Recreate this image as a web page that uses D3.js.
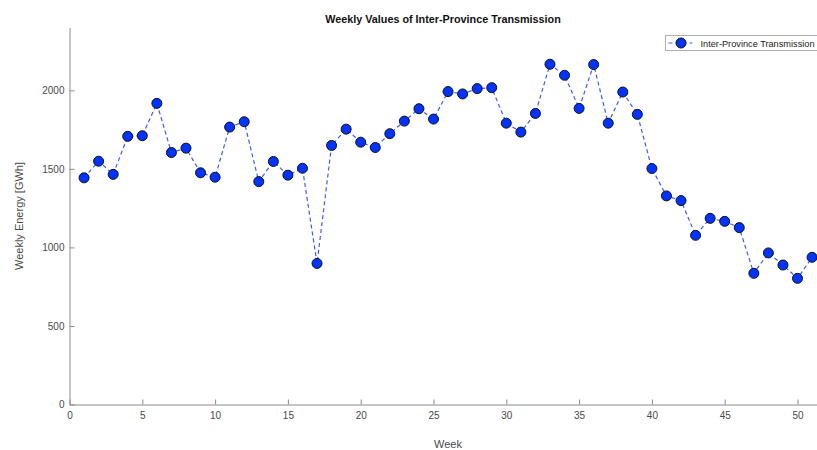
<!DOCTYPE html>
<html>
<head>
<meta charset="utf-8">
<script src="https://cdn.jsdelivr.net/npm/d3@7/dist/d3.min.js"></script>
<style>
  html, body { margin: 0; padding: 0; background: #fff; }
  svg { display: block; font-family: "Liberation Sans", Arial, Helvetica, sans-serif; }
</style>
</head>
<body>
<svg id="chart" width="817" height="450"></svg>
<script>
// Weekly inter-province transmission energy, GWh
const weeks = d3.range(1, 52);
const energy = [
  1443, 1549, 1465, 1707, 1711, 1917, 1604, 1632, 1475, 1447,
  1766, 1800, 1419, 1547, 1460, 1504, 898, 1649, 1753, 1670,
  1636, 1724, 1804, 1883, 1817, 1992, 1977, 2011, 2017, 1791,
  1734, 1853, 2166, 2096, 1885, 2164, 1791, 1989, 1847, 1502,
  1328, 1298, 1077, 1185, 1166, 1126, 835, 965, 888, 803, 937
];
const xTicks = [0, 5, 10, 15, 20, 25, 30, 35, 40, 45, 50];
const yTicks = [0, 500, 1000, 1500, 2000];
const titleText = "Weekly Values of Inter-Province Transmission";
const xLabel = "Week";
const yLabel = "Weekly Energy [GWh]";
const seriesName = "Inter-Province Transmission";

const svg = d3.select("#chart");
const plotLeft = 69.5, plotTop = 27.5, plotBottom = 404.5;

const x = d3.scaleLinear().domain([0, 52]).range([plotLeft, plotLeft + 52 * 14.56]);
const y = d3.scaleLinear().domain([0, 2400]).range([plotBottom, plotTop]);

const axisColor = "#8c8c8c";
const textColor = "#4a4a4a";

// x axis (ticks point inward)
const gx = svg.append("g")
  .attr("transform", `translate(0,${plotBottom})`)
  .call(d3.axisBottom(x).tickValues(xTicks).tickFormat(d3.format("d"))
    .tickSizeInner(-5).tickSizeOuter(0).tickPadding(7));
// y axis
const gy = svg.append("g")
  .attr("transform", `translate(${plotLeft},0)`)
  .call(d3.axisLeft(y).tickValues(yTicks).tickFormat(d3.format("d"))
    .tickSizeInner(-5).tickSizeOuter(0).tickPadding(5));

[gx, gy].forEach(g => {
  g.select(".domain").attr("stroke", axisColor);
  g.selectAll(".tick line").attr("stroke", axisColor);
  g.selectAll(".tick text").attr("fill", textColor).attr("font-size", 10)
    .attr("font-family", "Liberation Sans, Arial, sans-serif");
});

// titles
svg.append("text").attr("x", 443).attr("y", 22.5).attr("text-anchor", "middle")
  .attr("font-size", 10.8).attr("font-weight", "bold").attr("fill", "#111").text(titleText);
svg.append("text").attr("x", 448).attr("y", 448).attr("text-anchor", "middle")
  .attr("font-size", 11).attr("fill", textColor).text(xLabel);
svg.append("text").attr("transform", `translate(23,${(plotTop + plotBottom) / 2}) rotate(-90)`)
  .attr("text-anchor", "middle").attr("font-size", 11).attr("fill", textColor).text(yLabel);

// series
const data = weeks.map((w, i) => ({ w, v: energy[i] }));
const lineColor = "#3a5cff";
const markerFill = "#0033ff";

svg.append("path")
  .datum(data)
  .attr("fill", "none")
  .attr("stroke", lineColor)
  .attr("stroke-width", 1.2)
  .attr("stroke-dasharray", "4,3")
  .attr("d", d3.line().x(d => x(d.w)).y(d => y(d.v)));

svg.append("g").selectAll("circle")
  .data(data)
  .join("circle")
  .attr("cx", d => x(d.w))
  .attr("cy", d => y(d.v))
  .attr("r", 5)
  .attr("fill", markerFill)
  .attr("stroke", "#111")
  .attr("stroke-width", 1);

// legend
const lg = svg.append("g").attr("transform", "translate(665.5,35.5)");
lg.append("rect").attr("width", 160).attr("height", 15)
  .attr("fill", "#fff").attr("stroke", "#b0b0b0").attr("stroke-width", 1);
lg.append("line").attr("x1", 3).attr("x2", 27).attr("y1", 7.5).attr("y2", 7.5)
  .attr("stroke", lineColor).attr("stroke-width", 1.2).attr("stroke-dasharray", "4,3");
lg.append("circle").attr("cx", 15.5).attr("cy", 7.5).attr("r", 5)
  .attr("fill", markerFill).attr("stroke", "#111").attr("stroke-width", 1);
lg.append("text").attr("x", 35).attr("y", 11.2).attr("font-size", 9.5)
  .attr("textLength", 114).attr("lengthAdjust", "spacingAndGlyphs")
  .attr("fill", "#222").text(seriesName);
</script>
</body>
</html>
